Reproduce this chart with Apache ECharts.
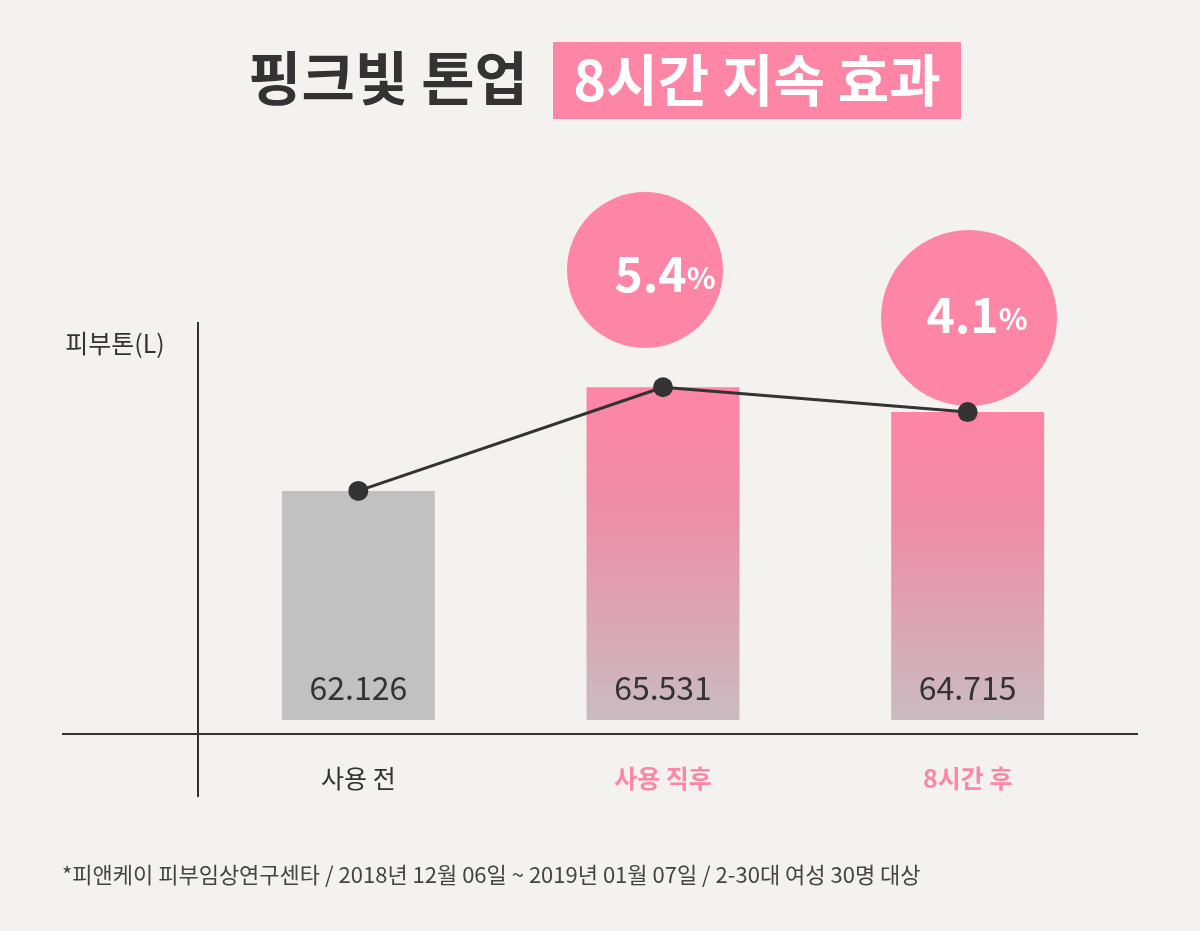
<!DOCTYPE html>
<html><head><meta charset="utf-8">
<script src="https://cdn.jsdelivr.net/npm/echarts@6/dist/echarts.min.js"></script>
<style>html,body{margin:0;background:#f4f2ef}#c{width:1200px;height:931px}</style>
</head><body><div id="c"></div>
<script>
const categories = ['사용 전', '사용 직후', '8시간 후'];
const toneValues = [62.126, 65.531, 64.715];
const increaseLabels = ['', '5.4', '4.1'];

const font = '"Noto Sans CJK KR", "Noto Sans", sans-serif';
const pink = '#fd85a5';
const chart = echarts.init(document.getElementById('c'));

const pinkGrad = new echarts.graphic.LinearGradient(0, 0, 0, 1, [
  { offset: 0, color: '#fe85a5' },
  { offset: 0.35, color: '#ef8ca7' },
  { offset: 1, color: '#c9bcc1' }
]);

chart.setOption({
  backgroundColor: '#f4f2ef',
  textStyle: { fontFamily: font },
  grid: { left: 206, right: 80, top: 373, bottom: 211 },
  xAxis: {
    type: 'category', data: categories,
    axisLine: { show: false }, axisTick: { show: false },
    axisLabel: {
      margin: 46,
      formatter: (v, i) => i === 0 ? '{n|' + v + '}' : '{p|' + v + '}',
      rich: {
        n: { fontSize: 25, color: '#333', fontFamily: font },
        p: { fontSize: 25, color: pink, fontWeight: 'bold', fontFamily: font }
      }
    }
  },
  yAxis: {
    type: 'value', min: 54.6, max: 66,
    axisLine: { show: false }, axisTick: { show: false },
    axisLabel: { show: false }, splitLine: { show: false }
  },
  series: [
    {
      type: 'bar', barWidth: 153, silent: true,
      data: toneValues.map((v, i) => ({
        value: v,
        itemStyle: { color: i === 0 ? '#c1c1c1' : pinkGrad }
      })),
      label: {
        show: true, position: 'insideBottom', distance: 16,
        fontSize: 32, color: '#333', fontFamily: font,
        formatter: p => p.value.toFixed(3)
      }
    },
    {
      type: 'line', data: toneValues, symbol: 'circle', symbolSize: 20,
      lineStyle: { color: '#333', width: 3 }, itemStyle: { color: '#333' }, z: 5
    }
  ],
  graphic: [
    { type: 'text', x: 388, y: 78, style: { text: '핑크빛 톤업', font: 'bold 58px ' + font, fill: '#333', align: 'center', verticalAlign: 'middle' } },
    { type: 'rect', shape: { x: 553, y: 42, width: 408, height: 77 }, style: { fill: pink } },
    { type: 'text', x: 757, y: 80, style: { text: '8시간 지속 효과', font: 'bold 56px ' + font, fill: '#fff', align: 'center', verticalAlign: 'middle' } },
    { type: 'line', shape: { x1: 198, y1: 322, x2: 198, y2: 797 }, style: { stroke: '#333', lineWidth: 2 } },
    { type: 'line', shape: { x1: 62, y1: 734, x2: 1138, y2: 734 }, style: { stroke: '#333', lineWidth: 2 } },
    { type: 'text', x: 115, y: 343, style: { text: '피부톤(L)', font: '25px ' + font, fill: '#333', align: 'center', verticalAlign: 'middle' } },
    { type: 'circle', shape: { cx: 645, cy: 270, r: 78 }, style: { fill: pink } },
    { type: 'circle', shape: { cx: 969, cy: 318, r: 88 }, style: { fill: pink } },
    { type: 'text', x: 665, y: 274, style: { text: '{a|' + increaseLabels[1] + '}{b|%}', align: 'center', verticalAlign: 'middle',
        rich: { a: { font: 'bold 48px ' + font, fill: '#fff' }, b: { font: 'bold 30px ' + font, fill: '#fff', padding: [8, 0, 0, 0] } } } },
    { type: 'text', x: 977, y: 315, style: { text: '{a|' + increaseLabels[2] + '}{b|%}', align: 'center', verticalAlign: 'middle',
        rich: { a: { font: 'bold 48px ' + font, fill: '#fff' }, b: { font: 'bold 30px ' + font, fill: '#fff', padding: [8, 0, 0, 0] } } } },
    { type: 'text', left: 62, top: 864, style: { text: '*피앤케이 피부임상연구센타 / 2018년 12월 06일 ~ 2019년 01월 07일 / 2-30대 여성 30명 대상', font: '22px ' + font, fill: '#444' } }
  ]
});
</script></body></html>
